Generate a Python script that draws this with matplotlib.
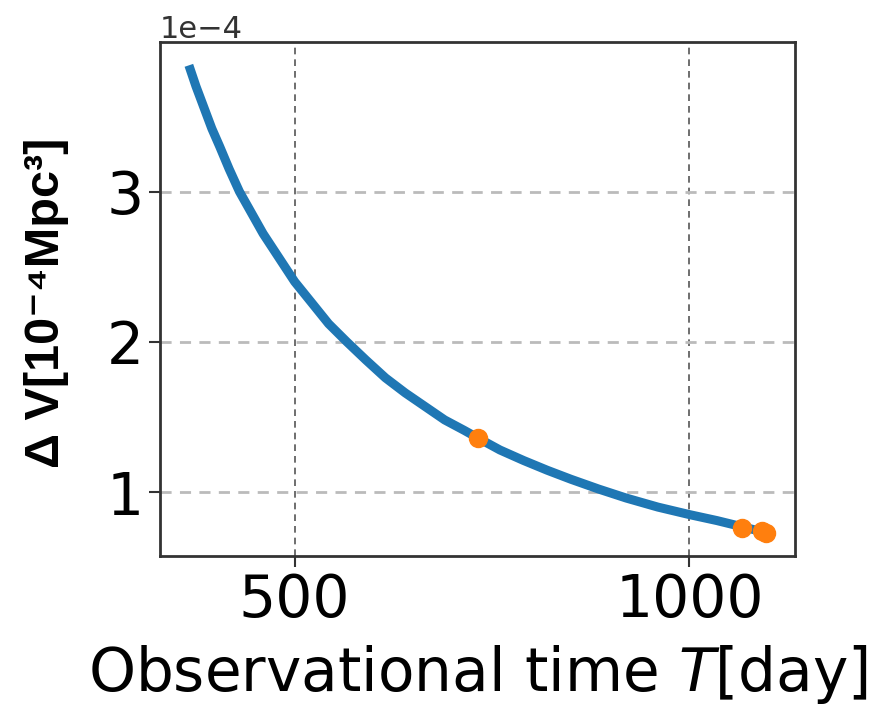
import matplotlib
matplotlib.use("Agg")
import matplotlib.pyplot as plt

# curve (T in days, dV in Mpc^3)
T_curve = [366, 375, 385, 395, 405, 417, 430, 445, 460, 480, 500, 520, 543, 566,
           590, 615, 640, 665, 690, 715, 732, 760, 790, 820, 850, 885, 920,
           960, 1000, 1035, 1066, 1097]
V_curve = [3.84, 3.70, 3.56, 3.42, 3.30, 3.15, 3.00, 2.86, 2.72, 2.56, 2.40,
           2.27, 2.12, 2.00, 1.88, 1.76, 1.66, 1.57, 1.48, 1.41, 1.36,
           1.28, 1.21, 1.145, 1.085, 1.02, 0.96, 0.90, 0.85, 0.81, 0.77, 0.73]
V_curve = [v * 1e-4 for v in V_curve]

# highlighted observations
T_obs = [732, 1066, 1092, 1097]
V_obs = [1.36e-4, 0.76e-4, 0.74e-4, 0.73e-4]

fig = plt.figure(figsize=(8.96, 7.2), dpi=100)
ax = fig.add_axes([0.1786, 0.2278, 0.7085, 0.7139])

ax.plot(T_curve, V_curve, color="#1f77b4", lw=6.5, solid_capstyle="butt",
        solid_joinstyle="round", zorder=3)
ax.plot(T_obs, V_obs, "o", color="#ff7f0e", ms=13, zorder=4)

ax.set_xticks([500, 1000])
ax.set_yticks([1e-4, 2e-4, 3e-4])
ax.ticklabel_format(axis="y", style="sci", scilimits=(0, 0))
ax.tick_params(labelsize=42, length=8, width=1.5, color="#333333")
ax.yaxis.get_offset_text().set_fontsize(22)
ax.yaxis.get_offset_text().set_color("#333333")

ax.grid(axis="y", ls=(0, (4, 3)), color="#bbbbbb", lw=2)
ax.grid(axis="x", ls=(0, (4, 3)), color="#555555", lw=1.2)
for s in ax.spines.values():
    s.set_color("#333333")
    s.set_linewidth(2)

ax.set_xlabel("Observational time $T$[day]", fontsize=43, labelpad=10)
fig.text(0.052, 0.58, "Δ V[10⁻⁴Mpc³]", rotation=90, fontsize=35,
         fontweight="bold", family=["Liberation Sans", "DejaVu Sans"],
         ha="center", va="center")

fig.savefig("out.png", dpi=100)
